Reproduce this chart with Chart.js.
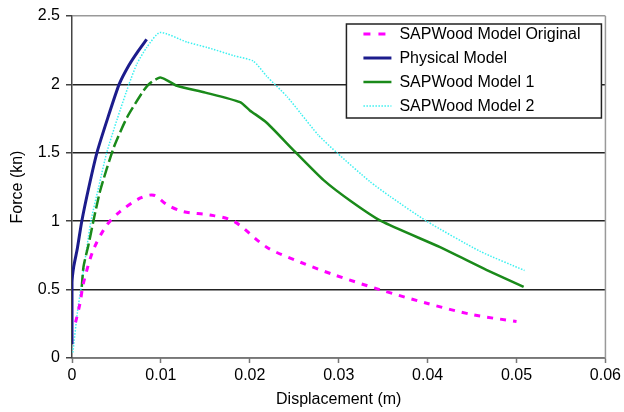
<!DOCTYPE html>
<html>
<head>
<meta charset="utf-8">
<script src="https://cdn.jsdelivr.net/npm/chart.js"></script>
<style>
  html, body { margin: 0; padding: 0; background: #fff; }
  #wrap { width: 624px; height: 412px; }
</style>
</head>
<body>
<div id="wrap"><canvas id="chart" width="624" height="412"></canvas></div>
<script>
// series (displacement in m, force in kn)
const seriesNames = ['SAPWood Model Original', 'Physical Model', 'SAPWood Model 1', 'SAPWood Model 2'];

const origX = [0.0004, 0.0009, 0.0013, 0.0024, 0.0039, 0.0054, 0.0077, 0.0092, 0.0107, 0.0125, 0.0155, 0.0182, 0.0219, 0.0257, 0.0294, 0.0346, 0.0399, 0.0451, 0.0500];
const origY = [0.26, 0.40, 0.55, 0.79, 0.97, 1.07, 1.17, 1.19, 1.12, 1.07, 1.046, 1.00, 0.81, 0.70, 0.61, 0.50, 0.40, 0.316, 0.267];

const physX = [0, 0, 0.0002, 0.0006, 0.0011, 0.0019, 0.0028, 0.0040, 0.0053, 0.0064, 0.0074, 0.0084];
const physY = [0.10, 0.55, 0.67, 0.80, 1.00, 1.25, 1.50, 1.75, 2.00, 2.14, 2.24, 2.33];

const m1X = [0.0011, 0.0013, 0.0019, 0.0024, 0.0032, 0.0047, 0.0062, 0.0080, 0.0088, 0.0099, 0.0107, 0.0118, 0.0150, 0.0189, 0.0200, 0.0219, 0.0249, 0.0283, 0.0315, 0.0348, 0.0414, 0.0466, 0.0508];
const m1Y = [0.52, 0.67, 0.84, 1.00, 1.23, 1.54, 1.76, 1.95, 2.01, 2.05, 2.03, 1.99, 1.94, 1.87, 1.81, 1.72, 1.52, 1.30, 1.14, 1.00, 0.81, 0.645, 0.52];

const m2X = [0.0001, 0.0006, 0.0011, 0.0021, 0.0030, 0.0039, 0.0051, 0.0064, 0.0073, 0.0084, 0.0099, 0.0129, 0.0152, 0.0182, 0.0204, 0.0219, 0.0242, 0.0257, 0.0277, 0.0298, 0.0335, 0.0358, 0.0399, 0.0459, 0.0509];
const m2Y = [0.04, 0.33, 0.55, 0.99, 1.25, 1.50, 1.75, 2.00, 2.15, 2.27, 2.38, 2.31, 2.27, 2.21, 2.17, 2.06, 1.91, 1.79, 1.63, 1.50, 1.29, 1.18, 1.00, 0.78, 0.64];

const xTicks = [0, 0.01, 0.02, 0.03, 0.04, 0.05, 0.06];
const yTicks = [0, 0.5, 1, 1.5, 2, 2.5];

function pts(xs, ys) {
  return xs.map((x, i) => ({ x: x, y: ys[i] }));
}

const FONT = "'Liberation Sans', Arial, sans-serif";

// legend box drawn inside the plot, top right
const boxLegend = {
  id: 'boxLegend',
  afterDraw(chart) {
    const ctx = chart.ctx;
    const a = chart.chartArea;
    const x0 = a.right - 259, y0 = a.top + 8, w = 255, h = 94;
    ctx.save();
    ctx.fillStyle = '#fff';
    ctx.fillRect(x0, y0, w, h);
    ctx.strokeStyle = '#222';
    ctx.lineWidth = 1.5;
    ctx.strokeRect(x0, y0, w, h);
    ctx.font = '16px ' + FONT;
    ctx.textBaseline = 'middle';
    ctx.fillStyle = '#000';
    chart.data.datasets.forEach((ds, i) => {
      const y = y0 + 10 + i * 24;
      ctx.beginPath();
      ctx.strokeStyle = ds.borderColor;
      ctx.lineWidth = ds.borderWidth;
      ctx.setLineDash(ds.legendDash || []);
      ctx.moveTo(x0 + 17, y);
      ctx.lineTo(x0 + 45, y);
      ctx.stroke();
      ctx.setLineDash([]);
      ctx.fillText(ds.label, x0 + 53, y + 1);
    });
    ctx.restore();
  }
};

// gray right border of the plot
const frame = {
  id: 'frame',
  beforeDatasetsDraw(chart) {
    const ctx = chart.ctx;
    const a = chart.chartArea;
    ctx.save();
    ctx.strokeStyle = '#999';
    ctx.lineWidth = 1.5;
    ctx.beginPath();
    ctx.moveTo(a.right, a.top);
    ctx.lineTo(a.right, a.bottom);
    ctx.stroke();
    ctx.restore();
  }
};

new Chart(document.getElementById('chart'), {
  type: 'scatter',
  data: {
    datasets: [
      {
        label: seriesNames[0],
        data: pts(origX, origY),
        borderColor: '#ff00ff',
        borderWidth: 3,
        borderDash: [6, 7],
        legendDash: [7, 8],
        tension: 0.3
      },
      {
        label: seriesNames[1],
        data: pts(physX, physY),
        borderColor: '#1c1c8c',
        borderWidth: 3,
        tension: 0.2
      },
      {
        label: seriesNames[2],
        data: pts(m1X, m1Y),
        borderColor: '#1a8a1a',
        borderWidth: 2.5,
        tension: 0.2,
        segment: {
          borderDash: c => c.p0.parsed.x < 0.0099 ? [12, 4] : undefined
        }
      },
      {
        label: seriesNames[3],
        data: pts(m2X, m2Y),
        borderColor: '#3cf0f0',
        borderWidth: 1.5,
        borderDash: [1.5, 1.5],
        legendDash: [1.5, 1.5],
        tension: 0.2
      }
    ].map(d => Object.assign({ showLine: true, pointRadius: 0, fill: false }, d))
  },
  options: {
    animation: false,
    responsive: false,
    devicePixelRatio: 1,
    layout: { padding: { left: 0, top: 16, right: 18, bottom: 0 } },
    plugins: {
      legend: { display: false },
      tooltip: { enabled: false }
    },
    scales: {
      x: {
        type: 'linear',
        min: 0,
        max: 0.06,
        afterBuildTicks: s => { s.ticks = xTicks.map(v => ({ value: v })); },
        afterFit: s => { s.height = 54; },
        ticks: {
          color: '#000',
          font: { family: FONT, size: 16 },
          padding: 3,
          maxRotation: 0,
          callback: v => String(v)
        },
        grid: {
          drawOnChartArea: false,
          drawTicks: true,
          tickLength: 5,
          tickColor: '#777',
          tickWidth: 1.5
        },
        border: { color: '#777', width: 1.5 },
        title: {
          display: true,
          text: 'Displacement (m)',
          color: '#000',
          font: { family: FONT, size: 16 },
          padding: { top: 0, bottom: 3 }
        }
      },
      y: {
        type: 'linear',
        min: 0,
        max: 2.5,
        afterBuildTicks: s => { s.ticks = yTicks.map(v => ({ value: v })); },
        afterFit: s => { s.width = 72; },
        ticks: {
          color: '#000',
          font: { family: FONT, size: 16 },
          padding: 6,
          callback: v => String(v)
        },
        grid: {
          color: c => c.tick && c.tick.value === 2.5 ? '#999' : '#222',
          lineWidth: 1.5,
          tickLength: 6,
          tickColor: '#444',
          tickWidth: 1.5
        },
        border: { color: '#444', width: 1.5 },
        title: {
          display: true,
          text: 'Force (kn)',
          color: '#000',
          font: { family: FONT, size: 16 },
          padding: { top: 8, bottom: 0 }
        }
      }
    }
  },
  plugins: [frame, boxLegend]
});
</script>
</body>
</html>
